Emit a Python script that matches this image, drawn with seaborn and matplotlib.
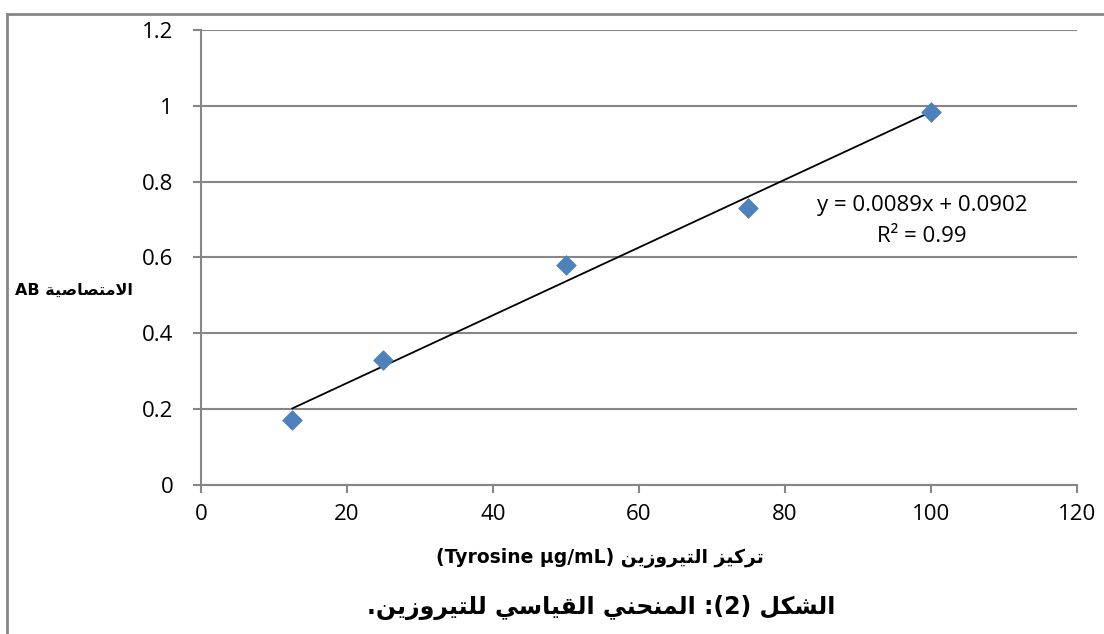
import numpy as np
import seaborn as sns
import matplotlib.pyplot as plt
from matplotlib.patches import Rectangle

# data
concentration = [12.5, 25, 50, 75, 100]
absorbance = [0.171, 0.330, 0.581, 0.731, 0.984]
x_ticks = [0, 20, 40, 60, 80, 100, 120]
y_ticks = [0, 0.2, 0.4, 0.6, 0.8, 1, 1.2]
y_tick_labels = ['0', '0.2', '0.4', '0.6', '0.8', '1', '1.2']

title_ar = 'الشكل (2): المنحني القياسي للتيروزين.'
xlabel_ar = 'تركيز التيروزين'
xlabel_en = '(Tyrosine µg/mL)'
ylabel_ar = 'الامتصاصية'
ylabel_en = 'AB'
equation = 'y = 0.0089x + 0.0902'
r2_text = 'R² = 0.99'

# matplotlib has no arabic shaping, so pick presentation forms by hand
# (isolated, final, initial, medial)
FORMS = {
    'ا': ('\uFE8D', '\uFE8E', None, None),
    'ة': ('\uFE93', '\uFE94', None, None),
    'ت': ('\uFE95', '\uFE96', '\uFE97', '\uFE98'),
    'ح': ('\uFEA1', '\uFEA2', '\uFEA3', '\uFEA4'),
    'ر': ('\uFEAD', '\uFEAE', None, None),
    'ز': ('\uFEAF', '\uFEB0', None, None),
    'س': ('\uFEB1', '\uFEB2', '\uFEB3', '\uFEB4'),
    'ش': ('\uFEB5', '\uFEB6', '\uFEB7', '\uFEB8'),
    'ص': ('\uFEB9', '\uFEBA', '\uFEBB', '\uFEBC'),
    'ق': ('\uFED5', '\uFED6', '\uFED7', '\uFED8'),
    'ك': ('\uFED9', '\uFEDA', '\uFEDB', '\uFEDC'),
    'ل': ('\uFEDD', '\uFEDE', '\uFEDF', '\uFEE0'),
    'م': ('\uFEE1', '\uFEE2', '\uFEE3', '\uFEE4'),
    'ن': ('\uFEE5', '\uFEE6', '\uFEE7', '\uFEE8'),
    'و': ('\uFEED', '\uFEEE', None, None),
    'ي': ('\uFEF1', '\uFEF2', '\uFEF3', '\uFEF4'),
}
LAM_ALEF = ('\uFEFB', '\uFEFC')
MIRROR = {'(': ')', ')': '('}


def joins_left(ch):
    return ch in FORMS and FORMS[ch][2] is not None


def rtl(text):
    # merge lam + alef first
    chars = []
    i = 0
    while i < len(text):
        if text[i] == 'ل' and i + 1 < len(text) and text[i + 1] == 'ا':
            chars.append('LA')
            i += 2
        else:
            chars.append(text[i])
            i += 1
    out = []
    for i, ch in enumerate(chars):
        prev = chars[i - 1] if i > 0 else ''
        nxt = chars[i + 1] if i + 1 < len(chars) else ''
        from_prev = joins_left(prev)
        if ch == 'LA':
            out.append(LAM_ALEF[1] if from_prev else LAM_ALEF[0])
            continue
        if ch not in FORMS:
            out.append(MIRROR.get(ch, ch))
            continue
        iso, fin, ini, med = FORMS[ch]
        to_next = ini is not None and (nxt in FORMS or nxt == 'LA')
        if from_prev and to_next:
            out.append(med)
        elif from_prev:
            out.append(fin)
        elif to_next:
            out.append(ini)
        else:
            out.append(iso)
    return ''.join(reversed(out))


sns.set_style('white')
plt.rcParams['font.family'] = ['Open Sans', 'DejaVu Sans']
plt.rcParams['text.color'] = 'black'

fig = plt.figure(figsize=(11.04, 6.34), dpi=100)
ax = fig.add_axes([0.182, 0.235, 0.7935, 0.7178])

sns.regplot(x=concentration, y=absorbance, ax=ax, ci=None, truncate=True,
            marker='D',
            scatter_kws={'s': 100, 'color': '#4F81BD', 'edgecolor': '#4A7EBB',
                         'linewidths': 0.5, 'alpha': 1, 'zorder': 3},
            line_kws={'color': 'black', 'lw': 1.3, 'zorder': 2})

ax.set_xlim(0, 120)
ax.set_ylim(0, 1.2)
ax.set_xticks(x_ticks)
ax.set_yticks(y_ticks)
ax.set_yticklabels(y_tick_labels)
ax.tick_params(axis='both', labelsize=16, colors='#868686', labelcolor='black',
               length=6, width=1.5, direction='out', bottom=True, left=True)
ax.tick_params(axis='x', pad=8)
ax.tick_params(axis='y', pad=14)
ax.yaxis.grid(True, color='#868686', lw=1.5)
ax.xaxis.grid(False)
ax.set_axisbelow(True)
for side in ['top', 'right']:
    ax.spines[side].set_visible(False)
for side in ['left', 'bottom']:
    ax.spines[side].set_color('#868686')
    ax.spines[side].set_linewidth(1.5)

ax.text(98.8, 0.736, equation, fontsize=16, ha='center', va='center')
ax.text(98.8, 0.655, r2_text, fontsize=16, ha='center', va='center')

# axis labels and caption
fig.text(0.014, 1 - 290 / 634, ylabel_en + ' ' + rtl(ylabel_ar), fontsize=11.5,
         fontweight='bold', family=['DejaVu Sans'], ha='left', va='center')
fig.text(0.5435, 1 - 558 / 634, xlabel_en + ' ' + rtl(xlabel_ar), fontsize=13.5,
         fontweight='bold', family=['DejaVu Sans'], ha='center', va='center')
fig.text(0.545, 1 - 608 / 634, rtl(title_ar), fontsize=17,
         fontweight='bold', family=['DejaVu Sans'], ha='center', va='center')

# outer chart border
fig.patches.append(Rectangle((7 / 1104, -0.05), 1.2, 1 - 14 / 634 + 0.05,
                             transform=fig.transFigure, fill=False,
                             edgecolor='#868686', lw=2))

plt.savefig('out.png', dpi=100)
